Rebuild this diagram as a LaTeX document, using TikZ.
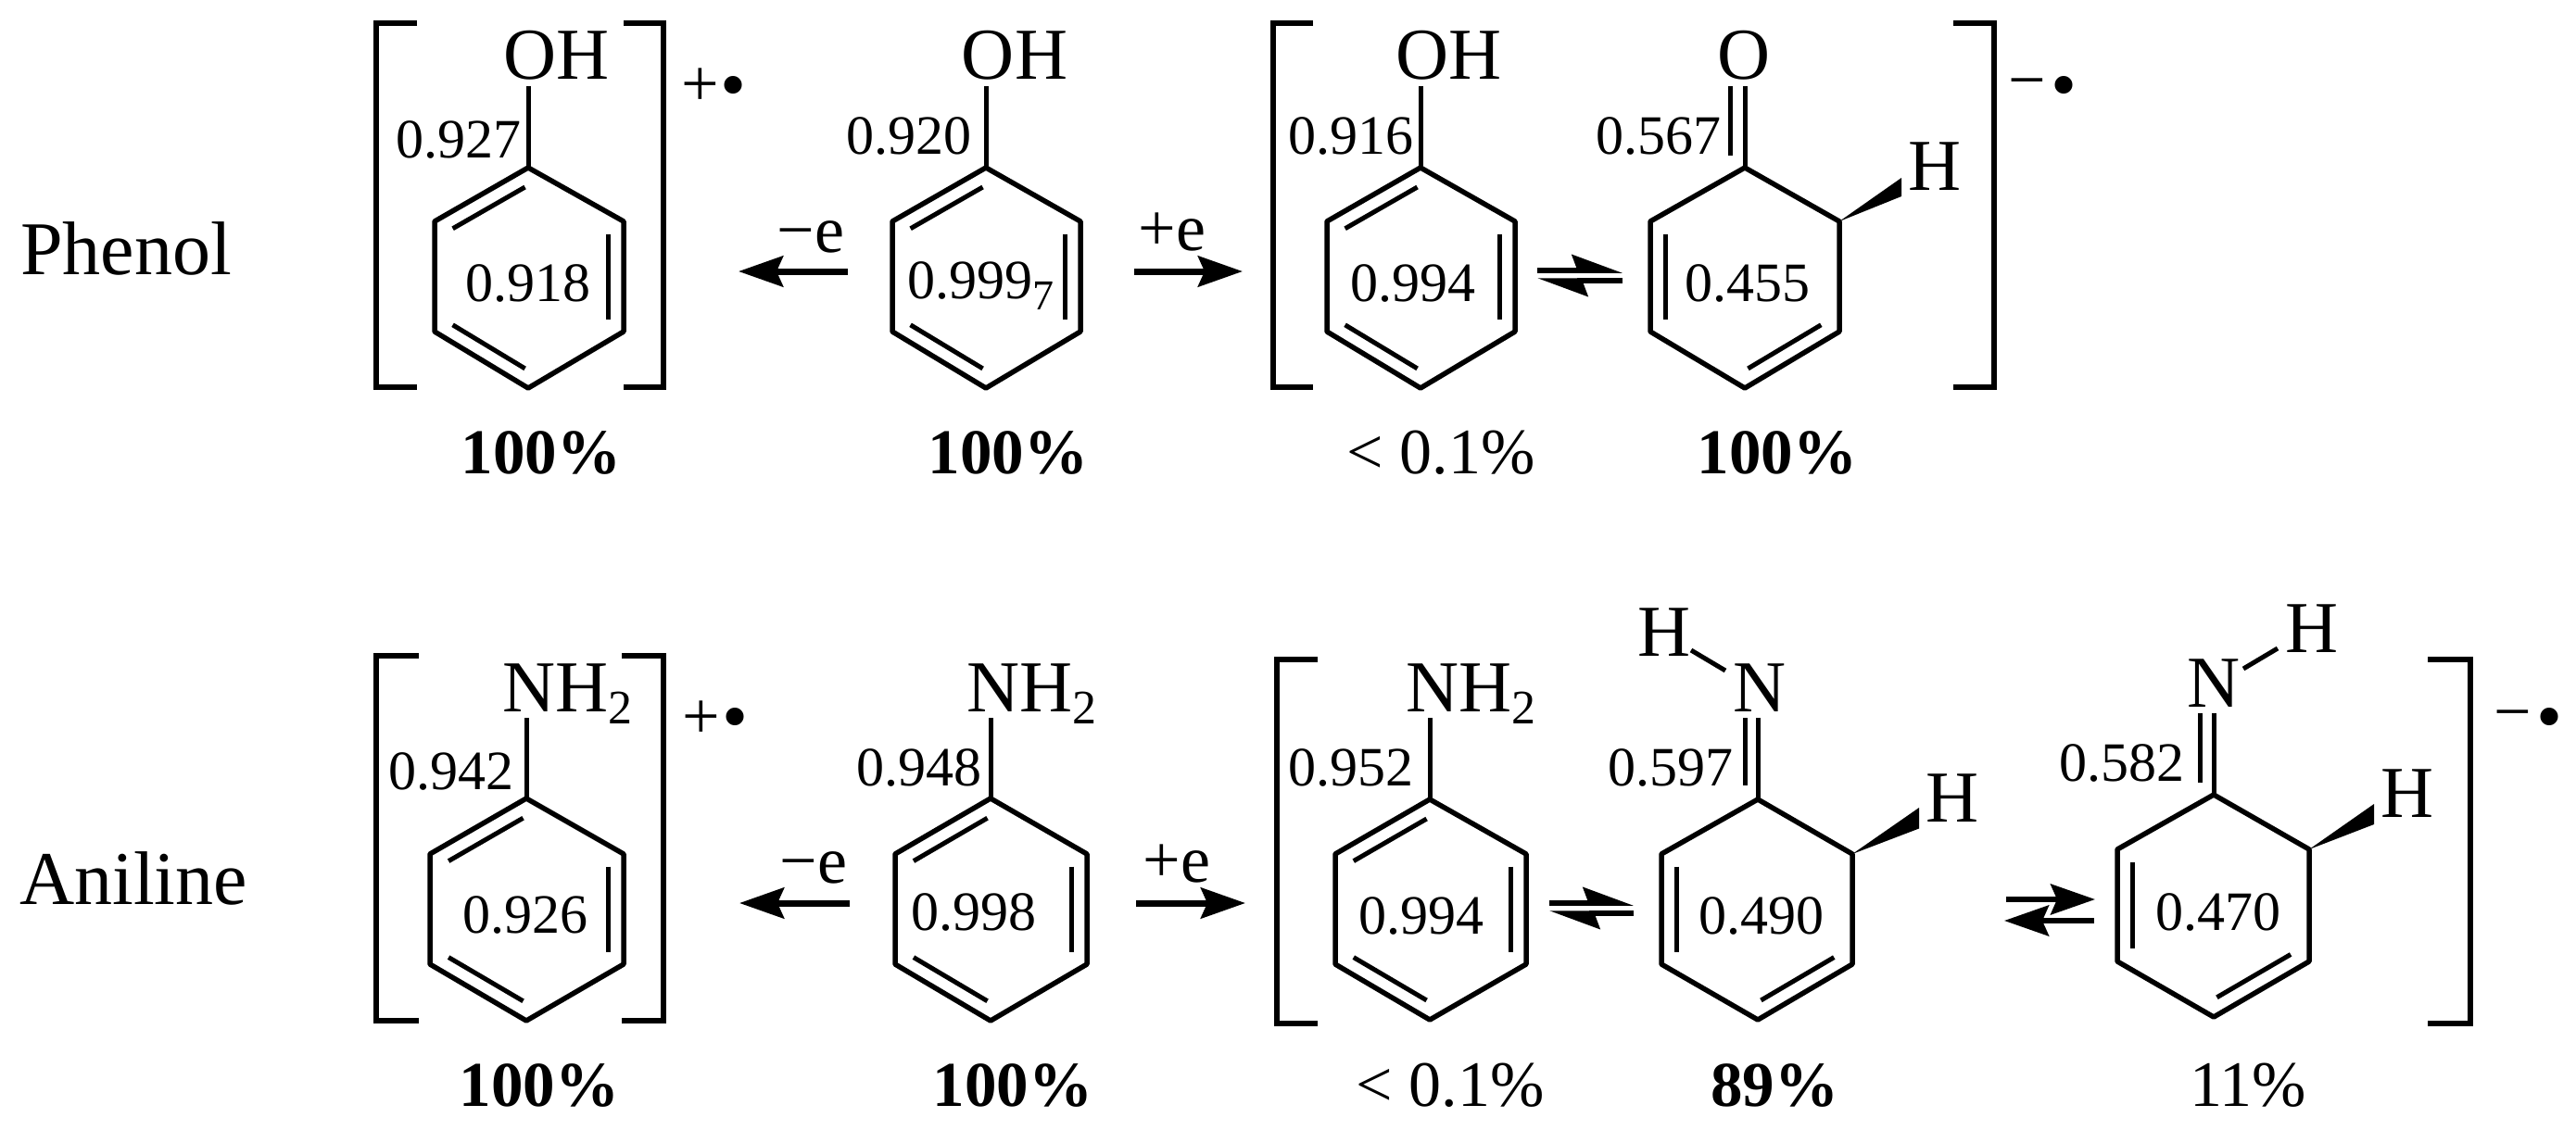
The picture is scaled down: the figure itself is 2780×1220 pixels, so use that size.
\documentclass[tikz,border=0pt]{standalone}
\usepackage{fontspec}
\setmainfont{Liberation Serif}
\usetikzlibrary{calc,arrows.meta}
\newcommand{\fs}[1]{\fontsize{#1}{#1}\selectfont}
\tikzset{
  every node/.style={inner sep=0pt,outer sep=0pt,anchor=base},
  bond/.style={line width=5.5pt,line join=round,line cap=round},
  stem/.style={line width=5pt},
  inner/.style={line width=5pt,shorten <=4pt,shorten >=4pt},
  brk/.style={line width=5.5pt,line join=miter},
  val/.style={font=\fs{60}},
  atom/.style={font=\fs{79}},
  pct/.style={font=\fs{69}\bfseries},
  pctr/.style={font=\fs{70}},
  lab/.style={font=\fs{82}},
  chg/.style={font=\fs{72}},
  rad/.style={font=\fs{80}},
  ee/.style={font=\fs{72}},
  rxn/.style={line width=7pt,-{Stealth[length=48pt,width=33pt,inset=7pt]}},
  eqhi/.style={line width=5.5pt,-{Stealth[harpoon,length=47pt,width=34pt,inset=6pt]}},
  eqlo/.style={line width=5.5pt,-{Stealth[harpoon,length=47pt,width=34pt,inset=6pt]}},
}
\newcommand{\ringat}[8]{%
  \coordinate (#1t) at (#3,#5);
  \coordinate (#1ur) at (#4,#6);
  \coordinate (#1lr) at (#4,#7);
  \coordinate (#1b) at (#3,#8);
  \coordinate (#1ll) at (#2,#7);
  \coordinate (#1ul) at (#2,#6);
  \coordinate (#1c) at (#3,{(#5+#8)/2});
  \draw[bond] (#1t)--(#1ur)--(#1lr)--(#1b)--(#1ll)--(#1ul)--cycle;
}
\newcommand{\dbl}[3]{\draw[inner] ($(#1#2)!.16!(#1c)$) -- ($(#1#3)!.16!(#1c)$);}
\newcommand{\brackets}[7]{% name, xL, armL, armR, xR, ytop, ybot
  \coordinate (#1a) at (#3,#6); \coordinate (#1b) at (#2,#6);
  \coordinate (#1c) at (#2,#7); \coordinate (#1d) at (#3,#7);
  \coordinate (#1e) at (#4,#6); \coordinate (#1f) at (#5,#6);
  \coordinate (#1g) at (#5,#7); \coordinate (#1h) at (#4,#7);
  \draw[brk] (#1a)--(#1b)--(#1c)--(#1d);
  \draw[brk] (#1e)--(#1f)--(#1g)--(#1h);
}
\newcommand{\NHtwo}{NH\raisebox{-13pt}{\fs{52}2}}
\begin{document}
\begin{tikzpicture}[x=1pt,y=-1pt]
\useasboundingbox (0,0) rectangle (2780,1220);
% ---------- row labels
\node[lab] (phenol) at (136,296) {Phenol};
\node[lab] (aniline) at (144,976) {Aniline};
% ---------- Phenol cation
\brackets{bA}{406}{450}{673}{716}{25}{418}
\ringat{a}{469}{570}{673}{181}{239}{358}{419}
\dbl{a}{t}{ul}\dbl{a}{ur}{lr}\dbl{a}{ll}{b}
\coordinate (aS) at (570,93); \draw[stem] (aS)--(at);
\node[atom] (aOH) at (601,86) {OH};
\node[val] (av1) at (495,170) {0.927};
\node[val] (av2) at (570,325) {0.918};
\node[chg] (aplus) at (756,115) {+};
\node[rad] (adot) at (791,118) {•};
\node[pct] (ap) at (584,511) {100\%};
% ---------- Phenol
\ringat{b}{963}{1064}{1166}{181}{239}{358}{419}
\dbl{b}{t}{ul}\dbl{b}{ur}{lr}\dbl{b}{ll}{b}
\coordinate (bS) at (1064,93); \draw[stem] (bS)--(bt);
\node[atom] (bOH) at (1095,86) {OH};
\node[val] (bv1) at (981,166) {0.920};
\node[val] (bv2) at (1058,322) {0.999\raisebox{-12pt}{\fs{46}7}};
\node[pct] (bp) at (1088,511) {100\%};
% arrows row 1
\coordinate (ar1a) at (915,293); \coordinate (ar1b) at (797,293);
\draw[rxn] (ar1a)--(ar1b);
\node[ee] (me1) at (875,272) {−e};
\coordinate (ar2a) at (1224,293); \coordinate (ar2b) at (1341,293);
\draw[rxn] (ar2a)--(ar2b);
\node[ee] (pe1) at (1265,270) {+e};
% ---------- Phenol anion
\brackets{bC}{1374}{1417}{2108}{2152}{25}{418}
\ringat{c}{1432}{1533}{1635}{181}{239}{358}{419}
\dbl{c}{t}{ul}\dbl{c}{ur}{lr}\dbl{c}{ll}{b}
\coordinate (cS) at (1533,93); \draw[stem] (cS)--(ct);
\node[atom] (cOH) at (1563.5,86) {OH};
\node[val] (cv1) at (1458,166) {0.916};
\node[val] (cv2) at (1525,325) {0.994};
\node[pctr] (cp) at (1555,511) {< 0.1\%};
% equilibrium 1
\coordinate (e1a) at (1659,292); \coordinate (e1b) at (1751,292);
\coordinate (e1c) at (1751,303); \coordinate (e1d) at (1659,303);
\draw[eqhi] (e1a)--(e1b);
\draw[eqlo] (e1c)--(e1d);
% ---------- Keto
\ringat{d}{1781}{1883}{1985}{181}{239}{358}{419}
\dbl{d}{ul}{ll}\dbl{d}{lr}{b}
\coordinate (dS) at (1883,93); \draw[stem] (dS)--(dt);
\coordinate (dSa) at (1867,93); \coordinate (dSb) at (1867,168); \draw[stem] (dSa)--(dSb);
\node[atom] (dO) at (1882,86) {O};
\node[val] (dv1) at (1790,166) {0.567};
\node[val] (dv2) at (1886,325) {0.455};
\coordinate (dw1) at (2052,192); \coordinate (dw2) at (2052,212);
\fill (dur)--(dw1)--(dw2)--cycle;
\node[atom] (dH) at (2088,205) {H};
\node[pct] (dp) at (1918,511) {100\%};
\node[chg] (dminus) at (2187.5,110.5) {−};
\node[rad] (ddot) at (2227,118) {•};
% ---------- Aniline cation
\brackets{bE}{406}{452}{671}{716}{708}{1102}
\ringat{e}{464}{568}{673}{862}{922}{1041}{1102}
\dbl{e}{t}{ul}\dbl{e}{ur}{lr}\dbl{e}{ll}{b}
\coordinate (eS) at (568,775); \draw[stem] (eS)--(et);
\node[atom] (eN) at (612.5,768) {\NHtwo};
\node[val] (ev1) at (487,852) {0.942};
\node[val] (ev2) at (567,1007) {0.926};
\node[chg] (eplus) at (757,797) {+};
\node[rad] (edot) at (793,800) {•};
\node[pct] (ep) at (582,1194) {100\%};
% ---------- Aniline
\ringat{f}{966}{1069}{1173}{862}{922}{1041}{1102}
\dbl{f}{t}{ul}\dbl{f}{ur}{lr}\dbl{f}{ll}{b}
\coordinate (fS) at (1069,775); \draw[stem] (fS)--(ft);
\node[atom] (fN) at (1113.5,768) {\NHtwo};
\node[val] (fv1) at (992,848) {0.948};
\node[val] (fv2) at (1051,1004) {0.998};
\node[pct] (fp) at (1093,1194) {100\%};
% arrows row 2
\coordinate (ar3a) at (917,975); \coordinate (ar3b) at (798,975);
\draw[rxn] (ar3a)--(ar3b);
\node[ee] (me2) at (878,953) {−e};
\coordinate (ar4a) at (1226,975); \coordinate (ar4b) at (1344,975);
\draw[rxn] (ar4a)--(ar4b);
\node[ee] (pe2) at (1270,952) {+e};
% ---------- Aniline anion
\brackets{bG}{1378}{1422}{2620}{2666}{712}{1105}
\ringat{g}{1441}{1543}{1647}{863}{922}{1041}{1101}
\dbl{g}{t}{ul}\dbl{g}{ur}{lr}\dbl{g}{ll}{b}
\coordinate (gS) at (1543,775); \draw[stem] (gS)--(gt);
\node[atom] (gN) at (1587.5,768) {\NHtwo};
\node[val] (gv1) at (1458,848) {0.952};
\node[val] (gv2) at (1534,1008) {0.994};
\node[pctr] (gp) at (1565,1194) {< 0.1\%};
% equilibrium 2
\coordinate (e2a) at (1672,975); \coordinate (e2b) at (1763,975);
\coordinate (e2c) at (1763,986); \coordinate (e2d) at (1672,986);
\draw[eqhi] (e2a)--(e2b);
\draw[eqlo] (e2c)--(e2d);
% ---------- Imine 1
\ringat{h}{1793}{1897}{1999}{863}{922}{1041}{1101}
\dbl{h}{ul}{ll}\dbl{h}{lr}{b}
\coordinate (hS) at (1897,775); \draw[stem] (hS)--(ht);
\coordinate (hSa) at (1883,775); \coordinate (hSb) at (1883,848); \draw[stem] (hSa)--(hSb);
\node[atom] (hN) at (1899,768) {N};
\node[atom] (hH1) at (1795.5,708) {H};
\coordinate (hNa) at (1825,702); \coordinate (hNb) at (1862,724); \draw[stem] (hNa)--(hNb);
\node[val] (hv1) at (1803,848) {0.597};
\node[val] (hv2) at (1901,1008) {0.490};
\coordinate (hw1) at (2071,872); \coordinate (hw2) at (2071,894.5);
\fill (hur)--(hw1)--(hw2)--cycle;
\node[atom] (hH2) at (2106.5,887) {H};
\node[pct] (hp) at (1915,1194) {89\%};
% equilibrium 3
\coordinate (e3a) at (2165,971); \coordinate (e3b) at (2261,971);
\coordinate (e3c) at (2260,994); \coordinate (e3d) at (2163,994);
\draw[rxn,line width=5.5pt] (e3a)--(e3b);
\draw[rxn,line width=5.5pt] (e3c)--(e3d);
% ---------- Imine 2
\ringat{i}{2285}{2389}{2492}{858}{917}{1038}{1098}
\dbl{i}{ul}{ll}\dbl{i}{lr}{b}
\coordinate (iS) at (2389,770); \draw[stem] (iS)--(it);
\coordinate (iSa) at (2374.5,770); \coordinate (iSb) at (2374.5,845); \draw[stem] (iSa)--(iSb);
\node[atom] (iN) at (2388.5,763) {N};
\node[atom] (iH1) at (2494.5,704) {H};
\coordinate (iNa) at (2421,722); \coordinate (iNb) at (2458,700); \draw[stem] (iNa)--(iNb);
\node[val] (iv1) at (2290,843) {0.582};
\node[val] (iv2) at (2394,1004) {0.470};
\coordinate (iw1) at (2562,868); \coordinate (iw2) at (2562,890);
\fill (iur)--(iw1)--(iw2)--cycle;
\node[atom] (iH2) at (2598,882) {H};
\node[pctr] (ip) at (2426,1194) {11\%};
\node[chg] (iminus) at (2711.5,792) {−};
\node[rad] (idot) at (2751.5,800) {•};
\end{tikzpicture}
\end{document}
